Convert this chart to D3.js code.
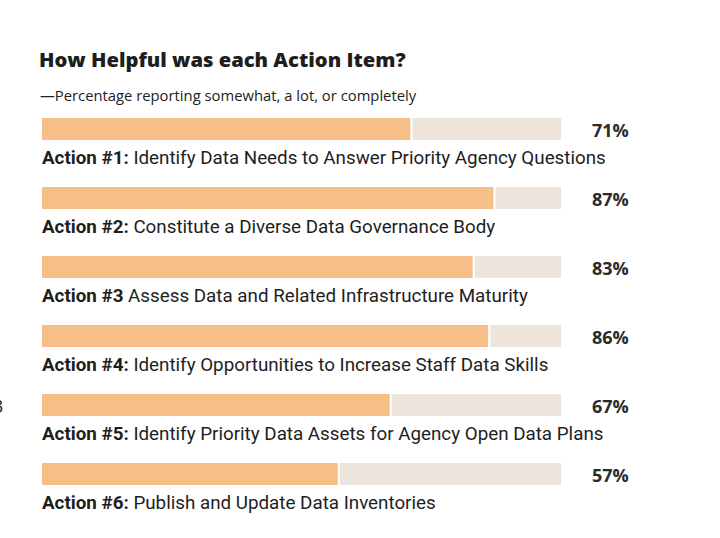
<!DOCTYPE html>
<html>
<head>
<meta charset="utf-8">
<script src="https://cdn.jsdelivr.net/npm/d3@7"></script>
<style>
  body { margin: 0; background: #fff; }
  svg { display: block; }
</style>
</head>
<body>
<svg class="chart" width="720" height="538"></svg>
<script>
// the action items
var actions = ["Action #1:", "Action #2:", "Action #3", "Action #4:", "Action #5:", "Action #6:"];
var descriptions = [
    "Identify Data Needs to Answer Priority Agency Questions",
    "Constitute a Diverse Data Governance Body",
    "Assess Data and Related Infrastructure Maturity",
    "Identify Opportunities to Increase Staff Data Skills",
    "Identify Priority Data Assets for Agency Open Data Plans",
    "Publish and Update Data Inventories"
];
// percentage reporting somewhat, a lot, or completely
var helpful = [71, 87, 83, 86, 67, 57];

var chart = d3.select(".chart");

// scales
var x = d3.scaleLinear().domain([0, 100]).range([42, 561]);
var y = d3.scaleBand().domain(d3.range(actions.length)).range([118, 532]).paddingInner(0);

var bar_h = 22;

// title
chart.append("text")
    .attr("x", 39).attr("y", 67)
    .attr("font-family", "'Open Sans', sans-serif")
    .attr("font-weight", 800)
    .attr("font-size", 20.2)
    .attr("fill", "#1e1e1e")
    .text("How Helpful was each Action Item?");

chart.append("text")
    .attr("x", 40).attr("y", 101)
    .attr("font-family", "'Open Sans', sans-serif")
    .attr("font-size", 14.8)
    .attr("fill", "#222")
    .text("\u2014Percentage reporting somewhat, a lot, or completely");

// stray glyph on the left edge
chart.append("text")
    .attr("x", -7).attr("y", 413)
    .attr("font-family", "'Open Sans', sans-serif")
    .attr("font-size", 18)
    .attr("fill", "#222")
    .text("3");

var rows = chart.selectAll("g.row")
    .data(helpful)
    .enter().append("g")
    .attr("class", "row")
    .attr("transform", function(d, i) { return "translate(0," + y(i) + ")"; });

// background track
rows.append("rect")
    .attr("x", x(0))
    .attr("y", 0)
    .attr("width", x(100) - x(0))
    .attr("height", bar_h)
    .attr("fill", "#ede5dc");

// value bar
rows.append("rect")
    .attr("x", x(0))
    .attr("y", 0)
    .attr("width", function(d) { return x(d) - x(0); })
    .attr("height", bar_h)
    .attr("fill", "#f5bf87");

// white gap between bar and track
rows.append("rect")
    .attr("x", function(d) { return x(d); })
    .attr("y", 0)
    .attr("width", 2)
    .attr("height", bar_h)
    .attr("fill", "#fff");

// percent labels
rows.append("text")
    .attr("x", 592)
    .attr("y", 19)
    .attr("font-family", "'Open Sans', sans-serif")
    .attr("font-weight", 700)
    .attr("font-size", 18)
    .attr("fill", "#2b2b2b")
    .text(function(d) { return d + "%"; });

// action labels
var labels = rows.append("text")
    .attr("x", 42)
    .attr("y", 46)
    .attr("font-family", "Roboto, sans-serif")
    .attr("font-size", 18.8)
    .attr("fill", "#1e1e1e");

labels.append("tspan")
    .attr("font-weight", 700)
    .text(function(d, i) { return actions[i]; });
labels.append("tspan")
    .text(function(d, i) { return " " + descriptions[i]; });
</script>
</body>
</html>
